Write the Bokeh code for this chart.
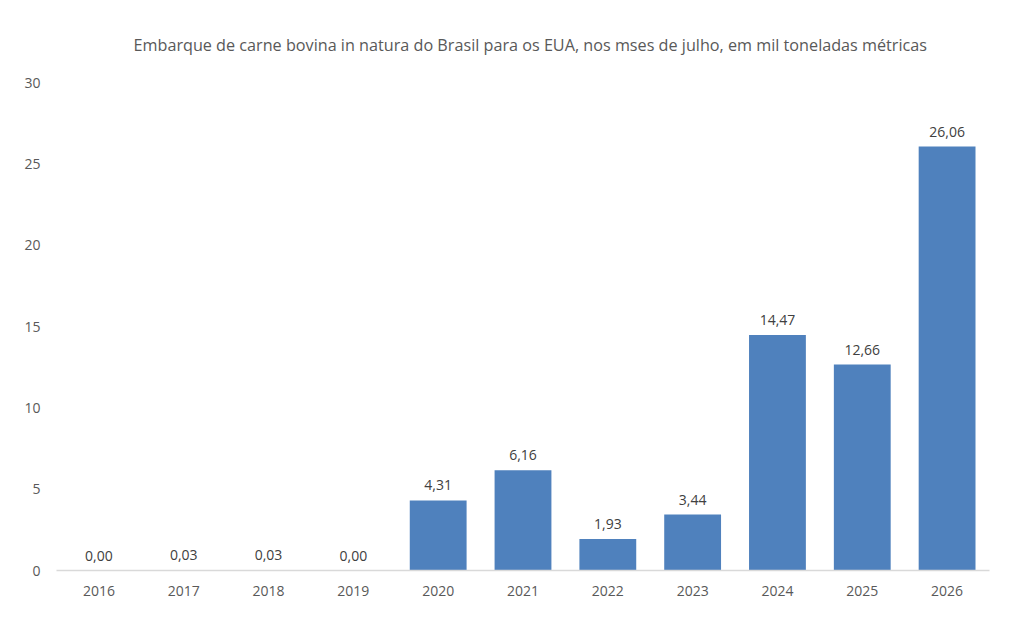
from bokeh.plotting import figure
from bokeh.models import ColumnDataSource
from bokeh.core.properties import value
from bokeh.embed import file_html
from bokeh.resources import INLINE

years = ["2016", "2017", "2018", "2019", "2020", "2021",
         "2022", "2023", "2024", "2025", "2026"]
shipments = [0.00, 0.03, 0.03, 0.00, 4.31, 6.16, 1.93, 3.44, 14.47, 12.66, 26.06]
y_ticks = [0, 5, 10, 15, 20, 25, 30]

title = ("Embarque de carne bovina in natura do Brasil para os EUA, "
         "nos mses de julho, em mil toneladas métricas")

font = "Open Sans"
grey = "#595959"

source = ColumnDataSource(data=dict(
    year=years,
    value=shipments,
    label=[("%.2f" % v).replace(".", ",") for v in shipments],
))

p = figure(width=1000, height=613, x_range=years, y_range=(0, 30),
           output_backend="svg", toolbar_location=None,
           min_border_left=56, min_border_right=11,
           min_border_bottom=43, min_border_top=82)
p.outline_line_color = None
p.grid.grid_line_color = None
p.background_fill_color = "white"

p.title.text = title
p.title.align = "left"
p.title.text_font = font
p.title.text_font_size = "16.2px"
p.title.text_font_style = "normal"
p.title.text_color = grey
p.title.offset = 77
p.title.standoff = 53

p.vbar(x="year", top="value", width=0.67, source=source,
       fill_color="#4F81BD", line_color=None)

p.text(x="year", y="value", text="label", source=source,
       text_align="center", text_baseline="bottom", y_offset=-10,
       text_font=value(font), text_font_size="14px", text_color="#404040")

p.yaxis.ticker = y_ticks
p.yaxis.axis_line_color = None
p.yaxis.major_tick_line_color = None
p.yaxis.minor_tick_line_color = None
p.yaxis.major_label_text_font = font
p.yaxis.major_label_text_font_size = "14px"
p.yaxis.major_label_text_color = grey
p.yaxis.major_label_standoff = 10

p.xaxis.axis_line_color = "#D9D9D9"
p.xaxis.axis_line_width = 1.5
p.xaxis.major_tick_line_color = None
p.xaxis.minor_tick_line_color = None
p.xaxis.major_label_text_font = font
p.xaxis.major_label_text_font_size = "14px"
p.xaxis.major_label_text_color = grey
p.xaxis.major_label_standoff = 9

p.x_range.range_padding = 0

open("out.html", "w").write(file_html(p, INLINE))
